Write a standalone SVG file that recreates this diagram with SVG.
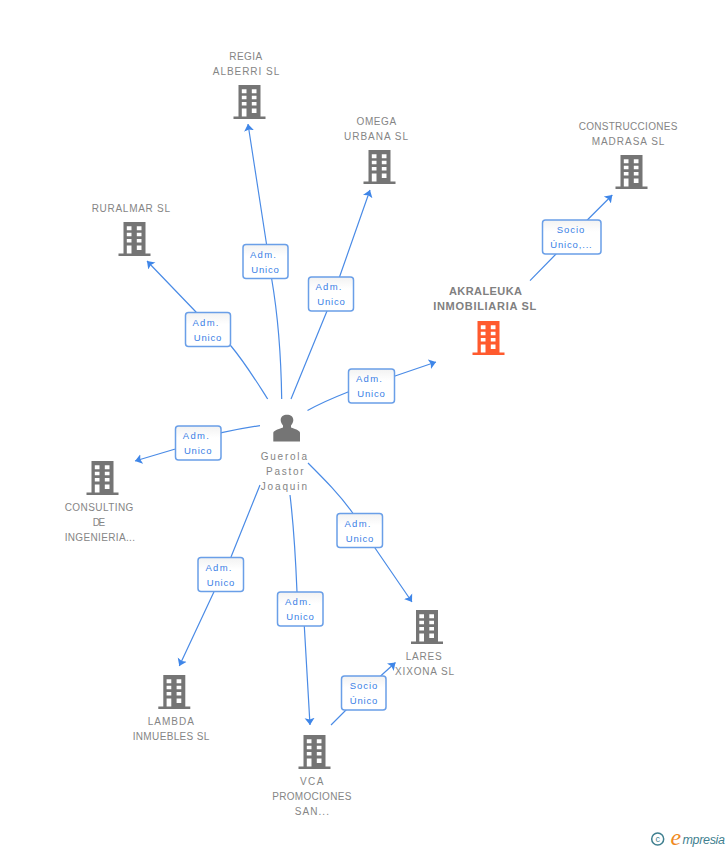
<svg xmlns="http://www.w3.org/2000/svg" width="728" height="850" viewBox="0 0 728 850">
<style>
text{font-family:"Liberation Sans",Arial,sans-serif}
.n{font-size:10px;fill:#858585;text-anchor:middle}
.b{font-size:11px;font-weight:bold;fill:#808080;text-anchor:middle}
.l{font-size:9.5px;fill:#3a80e6;text-anchor:middle}
.e{fill:none;stroke:#4a8be6;stroke-width:1.2}
.box{fill:url(#g);stroke:#6a9fe8;stroke-width:1.5}
</style>
<defs>
<linearGradient id="g" x1="0" y1="0" x2="0" y2="1"><stop offset="0" stop-color="#f2f2f2"/><stop offset=".35" stop-color="#fff"/></linearGradient>
<marker id="a" markerUnits="userSpaceOnUse" markerWidth="9" markerHeight="12" refX="7" refY="6" orient="auto"><path d="M0 1L7 6L0 11L1.500 6Z" fill="#3f86e8"/></marker>
<symbol id="bld" width="32" height="34" viewBox="0 0 32 34" overflow="visible">
<path fill-rule="evenodd" d="M5 0H27V31.500H32V34H0V31.500H5ZM8.300 4.300V8.300H13V4.300ZM18.300 4.300V8.300H23V4.300ZM8.300 10.700V14.300H13V10.700ZM18.300 10.700V14.300H23V10.700ZM8.300 17V20.500H13V17ZM18.300 17V20.500H23V17ZM8.300 23.500V31.500H13V23.500ZM18.300 23.500V28H23V23.500Z"/>
</symbol>
</defs>
<g id="connectors">
<path class="e" marker-end="url(#a)" d="M281.700 399C281 350 277 310 271.700 279L266.500 244L248 124"/>
<path class="e" marker-end="url(#a)" d="M291 399L327 311L339.500 277L370 190"/>
<path class="e" marker-end="url(#a)" d="M267.700 399C258 384 246 364 231 346L196 312L147 261"/>
<path class="e" marker-end="url(#a)" d="M307.500 410.500C320 403.500 334 397.500 348 392L395 376L436 362"/>
<path class="e" marker-end="url(#a)" d="M260 425.600C247 427.500 234 430 221.700 432.700L175.300 449L135 461"/>
<path class="e" marker-end="url(#a)" d="M308 463C325 480 340 495 352.700 513L375 548L412 602"/>
<path class="e" marker-end="url(#a)" d="M260 485L231 557L214 591.700L179.300 666"/>
<path class="e" marker-end="url(#a)" d="M290 495C293 520 295.500 555 297 592L304.300 626L310 725"/>
<path class="e" marker-end="url(#a)" d="M331 725L346 710L381.700 675L395.500 662.500"/>
<path class="e" marker-end="url(#a)" d="M530 280.700L556 254L588.300 219L612.300 195"/>
</g>
<g id="edge-labels">
<rect class="box" x="243" y="244.500" width="45" height="34" rx="3"/><text class="l" x="263" y="257.500" textLength="26">Adm.</text><text class="l" x="265" y="272.500" textLength="27.500">Unico</text>
<rect class="box" x="308.500" y="277" width="45" height="34" rx="3"/><text class="l" x="328.500" y="290" textLength="26">Adm.</text><text class="l" x="331" y="305" textLength="27.500">Unico</text>
<rect class="box" x="185.500" y="312.500" width="45" height="34" rx="3"/><text class="l" x="205.500" y="326" textLength="26">Adm.</text><text class="l" x="207.500" y="341" textLength="27.500">Unico</text>
<rect class="box" x="348.500" y="369" width="46" height="34" rx="3"/><text class="l" x="369" y="382" textLength="26">Adm.</text><text class="l" x="371" y="397" textLength="27.500">Unico</text>
<rect class="box" x="175.500" y="426" width="45.500" height="34" rx="3"/><text class="l" x="195.800" y="439" textLength="26">Adm.</text><text class="l" x="197.700" y="454" textLength="27.500">Unico</text>
<rect class="box" x="337" y="513.500" width="45.500" height="34" rx="3"/><text class="l" x="357.500" y="527" textLength="26">Adm.</text><text class="l" x="359.500" y="542" textLength="27.500">Unico</text>
<rect class="box" x="198" y="557.500" width="45.500" height="34" rx="3"/><text class="l" x="218.500" y="571" textLength="26">Adm.</text><text class="l" x="220.500" y="586" textLength="27.500">Unico</text>
<rect class="box" x="277.500" y="592" width="45.500" height="34" rx="3"/><text class="l" x="298" y="605" textLength="26">Adm.</text><text class="l" x="300" y="620" textLength="27.500">Unico</text>
<rect class="box" x="341.500" y="676" width="44.500" height="34" rx="3"/><text class="l" x="363.500" y="689" textLength="27.500">Socio</text><text class="l" x="363.500" y="704" textLength="27.500">Único</text>
<rect class="box" x="542.500" y="220" width="58.500" height="34" rx="3"/><text class="l" x="570.500" y="233" textLength="27.500">Socio</text><text class="l" x="571" y="248" textLength="41.500">Único,...</text>
</g>
<g id="n-regia" fill="#757575"><text class="n" x="245.700" y="60" textLength="33">REGIA</text><text class="n" x="246" y="75" textLength="66.500">ALBERRI SL</text><use href="#bld" x="233.500" y="85"/></g>
<g id="n-omega" fill="#757575"><text class="n" x="376.300" y="125" textLength="39.500">OMEGA</text><text class="n" x="376" y="140" textLength="64">URBANA SL</text><use href="#bld" x="363.500" y="150"/></g>
<g id="n-construcciones" fill="#757575"><text class="n" x="628" y="130" textLength="98.700">CONSTRUCCIONES</text><text class="n" x="628" y="145" textLength="72.700">MADRASA SL</text><use href="#bld" x="615.500" y="155"/></g>
<g id="n-akraleuka" fill="#ff5a2e"><text class="b" x="485.500" y="295" textLength="73">AKRALEUKA</text><text class="b" x="484.700" y="310" textLength="103">INMOBILIARIA SL</text><use href="#bld" x="472.500" y="321"/></g>
<g id="n-ruralmar" fill="#757575"><text class="n" x="130.800" y="212" textLength="78.300">RURALMAR SL</text><use href="#bld" x="118.500" y="222"/></g>
<g id="n-guerola" fill="#757575"><path d="M273.300 441.500V433C273.300 431 277 429.500 283 427.500V425.500C281 423 280.700 421 280.700 420C280.700 416.500 283.500 414.700 287 414.700C290.500 414.700 293.300 416.500 293.300 420C293.300 421 293 423 291 425.500V427.500C297 429.500 300 431 300 433V441.500Z"/><text class="n" x="283.800" y="460" textLength="46.300">Guerola</text><text class="n" x="284.800" y="475" textLength="37.700">Pastor</text><text class="n" x="283.800" y="490" textLength="46.300">Joaquin</text></g>
<g id="n-consulting" fill="#757575"><use href="#bld" x="86.500" y="461"/><text class="n" x="99" y="511" textLength="68.700">CONSULTING</text><text class="n" x="99" y="526" textLength="12.500">DE</text><text class="n" x="99.800" y="541" textLength="70.300">INGENIERIA...</text></g>
<g id="n-lares" fill="#757575"><use href="#bld" x="411" y="610"/><text class="n" x="423.700" y="660" textLength="36">LARES</text><text class="n" x="424.500" y="675" textLength="59">XIXONA SL</text></g>
<g id="n-lambda" fill="#757575"><use href="#bld" x="158.300" y="675"/><text class="n" x="170.800" y="725" textLength="46.300">LAMBDA</text><text class="n" x="171" y="740" textLength="76.700">INMUEBLES SL</text></g>
<g id="n-vca" fill="#757575"><use href="#bld" x="298.500" y="735"/><text class="n" x="311.700" y="785" textLength="23.300">VCA</text><text class="n" x="311.800" y="800" textLength="79">PROMOCIONES</text><text class="n" x="311.800" y="815" textLength="34.300">SAN...</text></g>
<g id="footer"><circle cx="657.700" cy="839" r="6" fill="none" stroke="#3f7f8f" stroke-width="1.500"/><text x="657.700" y="842" font-size="9" fill="#3f7f8f" text-anchor="middle">c</text><text x="670.500" y="845" font-size="24" font-style="italic" fill="#f08a1e" style="font-family:'Liberation Serif',serif">e</text><text x="682.500" y="844" font-size="12.500" font-style="italic" fill="#3f7f8f" textLength="42.500">mpresia</text></g>
</svg>
